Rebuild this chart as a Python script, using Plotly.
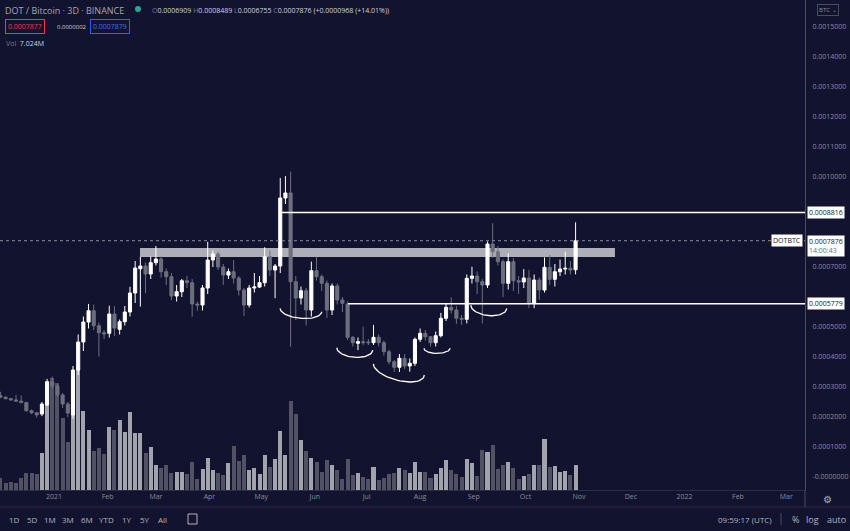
import numpy as np
import pandas as pd
import plotly.graph_objects as go

# DOT/BTC 3D candles, Dec 2020 - Oct 2021
dates = pd.date_range("2020-12-01", periods=112, freq="3D")

opens = [
    27.10e-5, 26.60e-5, 26.10e-5, 25.70e-5, 25.30e-5, 24.80e-5, 22.10e-5, 21.40e-5, 21.00e-5, 24.00e-5,
    31.67e-5, 30.33e-5, 27.33e-5, 24.33e-5, 20.67e-5, 35.67e-5, 45.00e-5, 51.67e-5, 55.43e-5, 50.43e-5,
    48.10e-5, 47.90e-5, 54.33e-5, 49.23e-5, 51.77e-5, 55.00e-5, 61.33e-5, 69.43e-5, 70.33e-5, 67.67e-5,
    71.43e-5, 72.67e-5, 68.43e-5, 66.77e-5, 60.33e-5, 61.77e-5, 65.43e-5, 64.77e-5, 57.67e-5, 57.33e-5,
    63.00e-5, 72.33e-5, 74.33e-5, 70.00e-5, 67.33e-5, 68.43e-5, 66.33e-5, 62.33e-5, 57.33e-5, 63.00e-5,
    63.33e-5, 64.77e-5, 73.43e-5, 69.00e-5, 70.33e-5, 93.00e-5, 94.67e-5, 65.10e-5, 59.67e-5, 62.10e-5,
    55.67e-5, 68.77e-5, 66.77e-5, 64.57e-5, 55.67e-5, 63.67e-5, 59.00e-5, 57.67e-5, 46.57e-5, 44.57e-5,
    45.10e-5, 45.00e-5, 44.77e-5, 46.57e-5, 44.77e-5, 41.77e-5, 38.43e-5, 36.57e-5, 39.57e-5, 37.00e-5,
    37.90e-5, 45.90e-5, 47.90e-5, 46.77e-5, 44.77e-5, 47.10e-5, 52.90e-5, 56.57e-5, 55.67e-5, 52.90e-5,
    52.57e-5, 66.23e-5, 67.00e-5, 65.10e-5, 64.00e-5, 77.67e-5, 75.10e-5, 71.77e-5, 64.57e-5, 71.77e-5,
    65.43e-5, 65.00e-5, 66.33e-5, 57.90e-5, 65.67e-5, 62.33e-5, 69.90e-5, 65.90e-5, 68.43e-5, 69.33e-5,
    69.57e-5, 69.09e-5,
]
highs = [
    28.4e-5, 26.9e-5, 26.4e-5, 27.4e-5, 27.2e-5, 25.1e-5, 22.5e-5, 21.7e-5, 25.0e-5, 32.7e-5,
    33.5e-5, 31.0e-5, 28.0e-5, 25.0e-5, 37.0e-5, 47.5e-5, 53.5e-5, 57.7e-5, 57.5e-5, 51.5e-5,
    49.0e-5, 57.1e-5, 57.0e-5, 52.5e-5, 57.0e-5, 63.4e-5, 72.0e-5, 73.4e-5, 71.5e-5, 73.5e-5,
    77.0e-5, 73.5e-5, 69.5e-5, 68.0e-5, 64.0e-5, 66.0e-5, 67.0e-5, 66.0e-5, 58.5e-5, 64.0e-5,
    78.4e-5, 75.5e-5, 75.0e-5, 71.0e-5, 69.5e-5, 72.3e-5, 67.0e-5, 63.0e-5, 64.0e-5, 68.0e-5,
    67.0e-5, 76.6e-5, 75.5e-5, 71.0e-5, 99.7e-5, 100.3e-5, 101.8e-5, 67.0e-5, 63.5e-5, 63.0e-5,
    71.8e-5, 73.4e-5, 67.5e-5, 65.5e-5, 64.5e-5, 64.5e-5, 60.0e-5, 58.5e-5, 47.0e-5, 46.5e-5,
    50.1e-5, 46.0e-5, 50.7e-5, 47.5e-5, 45.5e-5, 42.5e-5, 39.0e-5, 41.0e-5, 41.0e-5, 39.5e-5,
    46.5e-5, 49.5e-5, 49.0e-5, 47.0e-5, 48.5e-5, 54.7e-5, 57.9e-5, 59.9e-5, 57.0e-5, 54.0e-5,
    67.5e-5, 70.1e-5, 68.5e-5, 66.0e-5, 78.5e-5, 84.6e-5, 77.0e-5, 72.5e-5, 74.6e-5, 73.0e-5,
    67.0e-5, 69.3e-5, 69.0e-5, 67.5e-5, 66.5e-5, 73.2e-5, 74.0e-5, 71.0e-5, 72.5e-5, 75.1e-5,
    72.0e-5, 84.89e-5,
]
lows = [
    26.3e-5, 25.9e-5, 25.5e-5, 25.1e-5, 24.6e-5, 21.8e-5, 21.0e-5, 19.8e-5, 20.3e-5, 23.7e-5,
    29.5e-5, 26.8e-5, 23.0e-5, 20.0e-5, 19.5e-5, 34.0e-5, 42.0e-5, 49.5e-5, 49.0e-5, 40.1e-5,
    46.0e-5, 46.5e-5, 47.0e-5, 47.5e-5, 50.5e-5, 53.5e-5, 58.0e-5, 56.8e-5, 61.3e-5, 66.0e-5,
    70.5e-5, 66.5e-5, 64.0e-5, 59.0e-5, 58.5e-5, 60.0e-5, 63.0e-5, 53.4e-5, 55.5e-5, 55.5e-5,
    61.0e-5, 70.0e-5, 69.0e-5, 64.0e-5, 66.0e-5, 64.5e-5, 60.5e-5, 53.7e-5, 56.5e-5, 61.5e-5,
    63.0e-5, 63.5e-5, 67.0e-5, 59.6e-5, 68.0e-5, 91.0e-5, 43.4e-5, 52.3e-5, 57.5e-5, 50.5e-5,
    53.5e-5, 65.5e-5, 62.0e-5, 53.0e-5, 54.0e-5, 57.5e-5, 55.0e-5, 45.7e-5, 43.5e-5, 42.3e-5,
    44.0e-5, 44.0e-5, 44.0e-5, 43.5e-5, 40.5e-5, 37.5e-5, 35.0e-5, 35.0e-5, 36.0e-5, 35.1e-5,
    37.0e-5, 45.0e-5, 45.5e-5, 43.5e-5, 43.5e-5, 46.5e-5, 52.0e-5, 54.5e-5, 51.0e-5, 50.7e-5,
    51.2e-5, 64.5e-5, 61.0e-5, 51.2e-5, 63.0e-5, 73.0e-5, 70.5e-5, 60.0e-5, 62.5e-5, 62.0e-5,
    61.0e-5, 63.0e-5, 56.3e-5, 56.3e-5, 59.0e-5, 61.5e-5, 64.0e-5, 63.5e-5, 67.0e-5, 67.5e-5,
    67.5e-5, 67.55e-5,
]
closes = [
    26.60e-5, 26.10e-5, 25.70e-5, 25.30e-5, 24.80e-5, 22.10e-5, 21.40e-5, 20.70e-5, 24.33e-5, 31.77e-5,
    30.33e-5, 27.33e-5, 24.33e-5, 21.33e-5, 35.67e-5, 45.00e-5, 51.67e-5, 55.43e-5, 50.43e-5, 48.10e-5,
    47.67e-5, 54.33e-5, 49.67e-5, 51.77e-5, 55.00e-5, 61.33e-5, 69.67e-5, 70.33e-5, 67.67e-5, 71.43e-5,
    72.67e-5, 68.43e-5, 66.77e-5, 60.33e-5, 61.77e-5, 65.43e-5, 64.77e-5, 57.67e-5, 57.33e-5, 63.00e-5,
    72.33e-5, 74.33e-5, 70.00e-5, 67.33e-5, 68.43e-5, 66.33e-5, 62.33e-5, 57.33e-5, 63.00e-5, 63.33e-5,
    64.77e-5, 73.43e-5, 69.00e-5, 70.33e-5, 93.00e-5, 94.67e-5, 65.10e-5, 59.67e-5, 62.10e-5, 55.67e-5,
    68.77e-5, 66.77e-5, 64.57e-5, 55.67e-5, 63.67e-5, 59.00e-5, 57.90e-5, 46.57e-5, 44.77e-5, 45.10e-5,
    44.77e-5, 44.77e-5, 46.57e-5, 44.77e-5, 41.77e-5, 38.43e-5, 36.57e-5, 39.57e-5, 37.00e-5, 37.90e-5,
    45.90e-5, 47.90e-5, 46.77e-5, 44.77e-5, 47.10e-5, 52.90e-5, 56.57e-5, 55.67e-5, 52.90e-5, 52.57e-5,
    66.23e-5, 67.00e-5, 65.10e-5, 64.00e-5, 77.67e-5, 75.10e-5, 71.77e-5, 64.57e-5, 71.77e-5, 65.43e-5,
    65.00e-5, 66.33e-5, 57.90e-5, 65.67e-5, 62.33e-5, 69.90e-5, 65.90e-5, 68.43e-5, 69.33e-5, 69.57e-5,
    69.00e-5, 78.76e-5,
]
volumes = [
    3.47e6, 1.87e6, 2.16e6, 1.87e6, 3.28e6, 4.69e6, 4.69e6, 4.40e6, 10.49e6, 30.45e6,
    31.39e6, 29.98e6, 20.15e6, 13.59e6, 32.33e6, 34.20e6, 22.20e6, 16.87e6, 10.96e6, 11.90e6,
    10.03e6, 17.80e6, 16.87e6, 19.68e6, 16.40e6, 21.83e6, 15.93e6, 15.93e6, 10.49e6, 12.18e6,
    7.03e6, 6.28e6, 7.03e6, 4.69e6, 5.15e6, 4.97e6, 4.40e6, 7.96e6, 3.00e6, 5.90e6,
    8.90e6, 5.62e6, 4.87e6, 4.22e6, 7.50e6, 12.46e6, 8.15e6, 9.84e6, 5.62e6, 6.28e6,
    4.40e6, 9.84e6, 6.56e6, 8.62e6, 16.58e6, 9.84e6, 25.02e6, 21.27e6, 14.06e6, 10.96e6,
    9.09e6, 7.78e6, 5.15e6, 8.43e6, 7.03e6, 5.62e6, 3.00e6, 8.71e6, 4.22e6, 4.69e6,
    3.75e6, 3.00e6, 6.37e6, 2.72e6, 3.28e6, 4.40e6, 4.87e6, 6.09e6, 5.53e6, 4.78e6,
    7.78e6, 4.97e6, 4.97e6, 3.47e6, 4.40e6, 6.09e6, 8.34e6, 5.62e6, 4.59e6, 3.65e6,
    8.62e6, 7.50e6, 4.03e6, 11.15e6, 10.59e6, 12.65e6, 5.90e6, 7.03e6, 7.78e6, 6.28e6,
    3.00e6, 3.84e6, 4.59e6, 7.12e6, 7.12e6, 14.24e6, 6.37e6, 6.84e6, 4.97e6, 5.43e6,
    4.12e6, 7.02e6,
]

# drawings on the chart
resistance_band = (0.000733, 0.000763)
band_start, band_end = "2021-02-19 19:00", "2021-11-21 19:00"
upper_level, upper_start = 0.0008816, "2021-05-13"
lower_level, lower_start = 0.0005779, "2021-06-20 05:00"
last_price = 0.0007876

arc_starts = ["2021-05-11 22:00", "2021-06-13 17:00", "2021-07-04 22:00", "2021-08-03 05:00", "2021-08-30 07:00"]
arc_ends = ["2021-06-05", "2021-07-04 12:00", "2021-08-03 10:00", "2021-08-18 07:00", "2021-09-20 02:00"]
arc_p0 = [56.2e-5, 43.1e-5, 37.7e-5, 42.9e-5, 57.3e-5]
arc_p1 = [55.1e-5, 42.3e-5, 34.0e-5, 42.9e-5, 56.2e-5]
arc_depth = [2.75e-5, 2.8e-5, 3.75e-5, 1.7e-5, 2.95e-5]

month_ticks = pd.date_range("2020-12-01", "2022-03-01", freq="MS")
month_labels = ["Dec", "2021", "Feb", "Mar", "Apr", "May", "Jun", "Jul", "Aug", "Sep",
                "Oct", "Nov", "Dec", "2022", "Feb", "Mar"]
price_ticks = [0.0, 0.0001, 0.0002, 0.0003, 0.0004, 0.0005, 0.0007,
               0.0010, 0.0011, 0.0012, 0.0013, 0.0014, 0.0015]

BG = "#12132f"
UP = "#ffffff"
DOWN = "#6c6f7e"
TXT = "#8a8d99"
X_RANGE = ["2020-11-30 17:37", "2022-03-11 20:00"]
PLOT_W, PLOT_H = 805, 490


def px(x):
    return x / PLOT_W


def py(y):
    return (PLOT_H - y) / PLOT_H


vol_colors = ["#a2a4ad" if c >= o else "#515364" for o, c in zip(opens, closes)]

fig = go.Figure()

fig.add_trace(go.Bar(
    x=dates, y=volumes, yaxis="y",
    marker=dict(color=vol_colors, line=dict(width=0)),
    width=3 * 86400000 * 0.78, hoverinfo="skip",
))

fig.add_trace(go.Candlestick(
    x=dates, open=opens, high=highs, low=lows, close=closes, yaxis="y2",
    increasing=dict(line=dict(color=UP, width=1), fillcolor=UP),
    decreasing=dict(line=dict(color=DOWN, width=1), fillcolor=DOWN),
    whiskerwidth=0,
))

# smile arcs under the cup / handle
for s, e, p0, p1, d in zip(arc_starts, arc_ends, arc_p0, arc_p1, arc_depth):
    t = np.linspace(0, np.pi, 40)
    f = (1 - np.cos(t)) / 2
    t0 = pd.Timestamp(s).value
    t1 = pd.Timestamp(e).value
    xs = pd.to_datetime(t0 + (t1 - t0) * f)
    ys = p0 + (p1 - p0) * f - d * np.sin(t)
    fig.add_trace(go.Scatter(x=xs, y=ys, yaxis="y2", mode="lines",
                             line=dict(color="#ffffff", width=1.3), hoverinfo="skip"))

shapes = [
    dict(type="rect", xref="x", yref="y2", x0=band_start, x1=band_end,
         y0=resistance_band[0], y1=resistance_band[1],
         fillcolor="#aeafb6", line=dict(width=0), layer="below"),
    dict(type="line", xref="x", yref="y2", x0=upper_start, x1=X_RANGE[1],
         y0=upper_level, y1=upper_level, line=dict(color="#ffffff", width=1.5)),
    dict(type="line", xref="x", yref="y2", x0=lower_start, x1=X_RANGE[1],
         y0=lower_level, y1=lower_level, line=dict(color="#ffffff", width=1.5)),
    dict(type="line", xref="x", yref="y2", x0=X_RANGE[0], x1=X_RANGE[1],
         y0=last_price, y1=last_price, line=dict(color="#8a8d99", width=1, dash="dot")),
    # frame lines around axes / toolbar
    dict(type="line", xref="paper", yref="paper", x0=0, x1=px(850), y0=py(507), y1=py(507),
         line=dict(color="#2b2d40", width=1)),
    dict(type="line", xref="paper", yref="paper", x0=1, x1=1, y0=py(490), y1=py(507),
         line=dict(color="#4a4c5c", width=1)),
    dict(type="line", xref="paper", yref="paper", x0=px(781), x1=px(781), y0=py(513), y1=py(525),
         line=dict(color="#4a4c5c", width=1)),
    # live dot in header
    dict(type="circle", xref="paper", yref="paper", x0=px(135), x1=px(141), y0=py(6), y1=py(12),
         fillcolor="#22ab94", line=dict(width=0)),
    # calendar icon in toolbar
    dict(type="rect", xref="paper", yref="paper", x0=px(188), x1=px(197), y0=py(514), y1=py(524),
         line=dict(color="#b2b5be", width=1)),
]

ann = []


def label(text, x, y, size=7, color=TXT, **kw):
    ann.append(dict(text=text, xref="paper", yref="paper", x=px(x), y=py(y),
                    xanchor=kw.pop("xanchor", "left"), yanchor="middle", showarrow=False,
                    font=dict(size=size, color=color), **kw))


label("DOT / Bitcoin · 3D · BINANCE", 3, 10, size=9, color="#a3a6b4")
label("<span style='color:#787b86'>O</span>0.0006909 <span style='color:#787b86'>H</span>0.0008489 "
      "<span style='color:#787b86'>L</span>0.0006755 <span style='color:#787b86'>C</span>0.0007876 "
      "(+0.0000968 (+14.01%))", 150, 10, size=7, color="#d1d4dc")
label("0.0007877", 5, 27, size=7, color="#f23645", bordercolor="#f23645", borderwidth=1, borderpad=2)
label("0.0000002", 55, 27, size=6, color="#d1d4dc")
label("0.0007879", 90, 27, size=7, color="#3d6bff", bordercolor="#2962ff", borderwidth=1, borderpad=2)
label("<span style='color:#787b86'>Vol</span>  7.024M", 4, 43, size=7, color="#d1d4dc")
label("BTC ⌄", 828, 10, size=6, color=TXT, xanchor="center", bordercolor="#4a4c5c", borderwidth=1, borderpad=1)
label("⚙", 827, 499, size=10, color="#b2b5be", xanchor="center")
for txt, x in zip(["1D", "5D", "1M", "3M", "6M", "YTD", "1Y", "5Y", "All"],
                  [14, 32, 50, 68, 87, 107, 127, 145, 162]):
    label(txt, x, 519, size=8, color="#b2b5be", xanchor="center")
label("09:59:17 (UTC)", 774, 519, size=8, color="#b2b5be", xanchor="right")
label("%", 795, 519, size=9, color="#b2b5be", xanchor="center")
label("log", 812, 519, size=9, color="#b2b5be", xanchor="center")
label("auto", 836, 519, size=9, color="#b2b5be", xanchor="center")

# price labels on the right scale
for txt, val, anchor, xa, xs, ys in [
    ("0.0008816", upper_level, "middle", "left", 2, 0),
    ("0.0005779", lower_level, "middle", "left", 2, 0),
    ("0.0007876<br><span style='color:#6a6d78'>14:00:43</span>", last_price, "top", "left", 2, 6),
    ("DOTBTC", last_price, "middle", "right", -2, 0),
]:
    ann.append(dict(text=txt, xref="paper", yref="y2", x=1, y=val, xanchor=xa, yanchor=anchor,
                    xshift=xs, yshift=ys, showarrow=False, bgcolor="#ffffff", borderpad=1,
                    align="left", font=dict(size=7, color="#131722")))

fig.update_layout(
    width=850, height=531,
    margin=dict(l=0, r=45, t=0, b=41),
    paper_bgcolor=BG, plot_bgcolor=BG,
    font=dict(family="Open Sans", color=TXT),
    showlegend=False,
    bargap=0,
    boxgap=0.15,
    xaxis=dict(type="date", range=X_RANGE, rangeslider=dict(visible=False),
               showgrid=False, zeroline=False, ticks="",
               tickvals=month_ticks, ticktext=month_labels,
               tickfont=dict(size=7, color=TXT),
               showline=True, linecolor="#2b2d40"),
    yaxis=dict(range=[0, 137.7e6], visible=False),
    yaxis2=dict(overlaying="y", side="right", range=[-0.0000433, 0.00159],
                tickvals=price_ticks,
                ticktext=["-0.0000000" if v == 0 else f"{v:.7f}" for v in price_ticks],
                tickfont=dict(size=7, color=TXT), showgrid=False, zeroline=False,
                ticks="", ticklabelstandoff=5, showline=True, linecolor="#4a4c5c"),
    shapes=shapes,
    annotations=ann,
)

# drop the browser's default page margin so the figure sits at the top-left corner
fig.write_html("out.html", config={"displayModeBar": False},
               post_script="document.body.style.margin='0';document.body.style.background='%s';" % BG)
